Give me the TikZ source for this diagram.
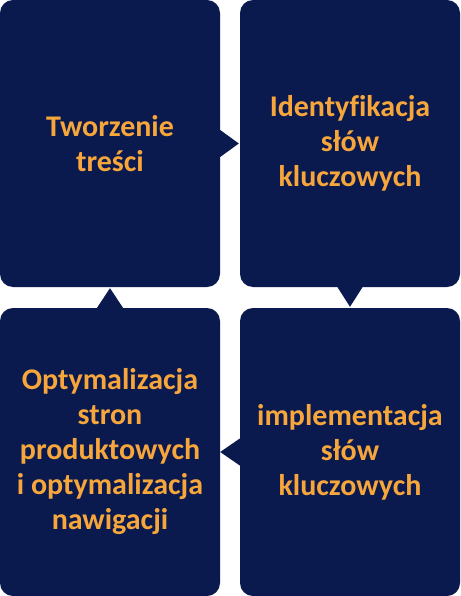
\documentclass[tikz,border=0pt]{standalone}
\usepackage{fontspec}
\setmainfont{Carlito}[Ligatures=NoCommon]
\definecolor{navy}{RGB}{10,26,78}
\definecolor{tangerine}{RGB}{247,166,60}
\begin{document}
\begin{tikzpicture}[x=1pt,y=1pt,
  card/.style={fill=navy, rounded corners=13pt, minimum width=220pt, inner sep=0pt,
    text=tangerine, align=center, font=\bfseries\fontsize{30}{35}\selectfont},
  pointer/.style={fill=navy}]
\useasboundingbox (0,0) rectangle (460,-596);
\node[card, minimum height=287pt] (a) at (110,-143.5) {Tworzenie\\treści};
\node[card, minimum height=287pt] (b) at (350,-143.5) {Identyfikacja\\słów\\kluczowych};
\node[card, minimum height=288pt] (c) at (350,-452) {implementacja\\słów\\kluczowych};
\node[card, minimum height=288pt] (d) at (110,-452) {Optymalizacja\\stron\\produktowych\\i optymalizacja\\nawigacji};
\fill[pointer] ([yshift=13.5pt]a.east) -- ([xshift=-1pt]b.west) -- ([yshift=-13.5pt]a.east) -- cycle;
\fill[pointer] ([xshift=-12.5pt]b.south) -- ([yshift=1pt]c.north) -- ([xshift=12.5pt]b.south) -- cycle;
\fill[pointer] ([yshift=13.5pt]c.west) -- (d.east) -- ([yshift=-13.5pt]c.west) -- cycle;
\fill[pointer] ([xshift=-13pt]d.north) -- ([yshift=-1pt]a.south) -- ([xshift=13pt]d.north) -- cycle;
\end{tikzpicture}
\end{document}
